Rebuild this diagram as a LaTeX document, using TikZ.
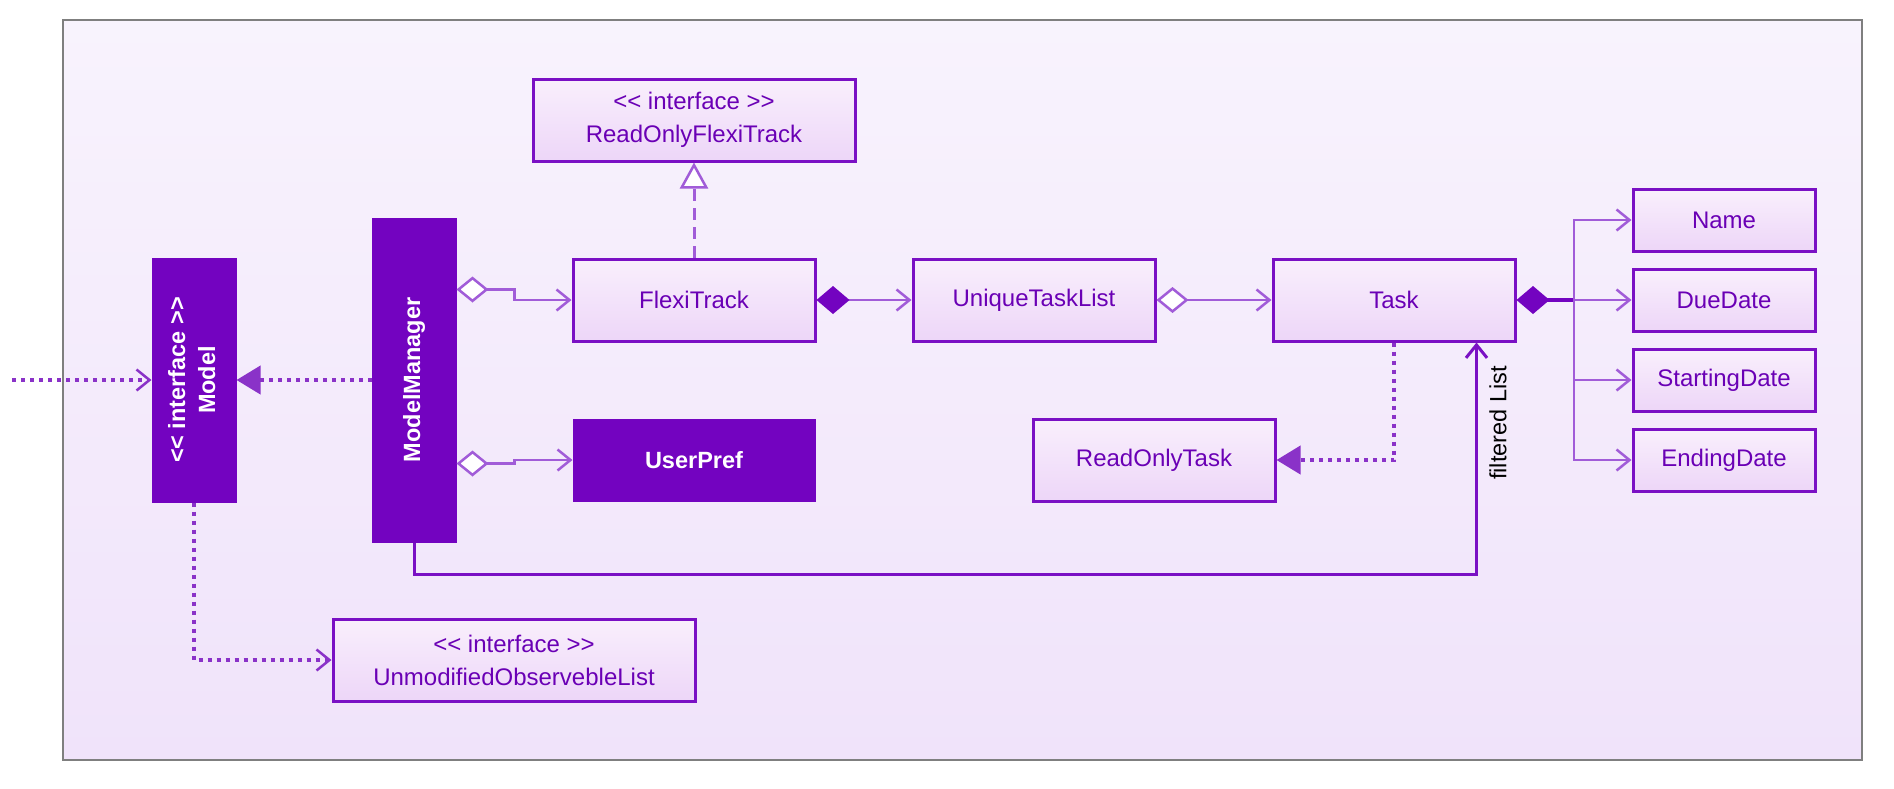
\documentclass[tikz,border=0pt]{standalone}
\usepackage{fontspec}
\setmainfont{Liberation Sans}
\usetikzlibrary{arrows.meta,calc}
\definecolor{dark}{HTML}{7303C0}
\definecolor{bord}{HTML}{7A10C4}
\definecolor{txt}{HTML}{6A00B5}
\definecolor{lite}{HTML}{A15CD8}
\definecolor{dotc}{HTML}{8A32C8}
\definecolor{boxtop}{HTML}{F9EFFC}
\definecolor{boxbot}{HTML}{EDD6F8}
\definecolor{bgtop}{HTML}{F8F3FD}
\definecolor{bgbot}{HTML}{F0E3FA}
\definecolor{framec}{HTML}{7F7F7F}
\begin{document}
\begin{tikzpicture}[x=1pt,y=-1pt,
  box/.style={draw=bord, line width=3pt, top color=boxtop, bottom color=boxbot, text=txt,
    font=\fontsize{24}{33}\selectfont, minimum width=242pt, minimum height=82pt, inner sep=0pt, align=center},
  smallbox/.style={box, minimum width=182pt, minimum height=62pt},
  dbox/.style={fill=dark, draw=dark, line width=1pt, text=white,
    font=\bfseries\fontsize{23.5}{30}\selectfont, inner sep=0pt, align=center},
  conn/.style={draw=lite, line width=2.5pt},
  oarr/.style={-{Straight Barb[length=13pt,width=21pt,line width=2.5pt]}},
  dots/.style={draw=dotc, line width=4pt, dash pattern=on 4pt off 5pt},
  aggr/.style={{Diamond[open,fill=white,length=32pt,width=26pt,line width=2.5pt]}-{Straight Barb[length=13pt,width=21pt,line width=2.5pt]}},
  comp/.style={{Diamond[color=dark,length=33pt,width=28pt]}-{Straight Barb[length=13pt,width=21pt,line width=2.5pt]}},
]
\useasboundingbox (0,0) rectangle (1894,788);
\draw[draw=framec, line width=2pt, top color=bgtop, bottom color=bgbot] (63,20) rectangle (1862,760);

% nodes
\node[dbox, minimum width=84pt, minimum height=244pt] (model) at (194,380)
  {\rotatebox{90}{\begin{tabular}{@{}c@{}}<{}< interface >{}>\\Model\end{tabular}}};
\node[dbox, minimum width=84pt, minimum height=324pt] (mm) at (414,380)
  {\rotatebox{90}{ModelManager}};
\node[box, minimum width=322pt] (roft) at (694,120) {<{}< interface >{}>\\ReadOnlyFlexiTrack};
\node[box] (ft) at (694,300) {FlexiTrack};
\node[box] (utl) at (1034,300) {UniqueTaskList};
\node[box] (task) at (1394,300) {Task};
\node[dbox, minimum width=242pt, minimum height=82pt] (up) at (694,460) {UserPref};
\node[box] (rot) at (1154,460) {ReadOnlyTask};
\node[box, minimum width=362pt] (uol) at (514,660) {<{}< interface >{}>\\UnmodifiedObservebleList};
\node[smallbox] (name) at (1724,220) {Name};
\node[smallbox] (due) at (1724,300) {DueDate};
\node[smallbox] (start) at (1724,380) {StartingDate};
\node[smallbox] (end) at (1724,460) {EndingDate};
\node[rotate=90, font=\fontsize{23.5}{28}\selectfont, text=black, inner sep=0pt] (fl) at (1498,423) {filtered List};

\coordinate (ext) at (12,380);
\coordinate (hub) at (1574,300);

% connectors
\draw[dots, oarr] (ext) -- (model.west);
\draw[dots, -{Triangle[length=24pt,width=28pt]}] (mm.west) -- (model.east);
\draw[dots, oarr] (model.south) |- (uol.west);
\draw[conn, aggr] ($(mm.north east)+(0,72)$) -- ++(58,0) |- (ft.west);
\draw[conn, aggr] ($(mm.south east)+(0,-79)$) -- ++(58,0) |- (up.west);
\draw[draw=lite, line width=3pt, dash pattern=on 12pt off 7pt,
  -{Triangle[open,fill=white,length=26pt,width=28pt,line width=2.5pt]}] (ft.north) -- (roft.south);
\draw[conn, comp] (ft.east) -- (utl.west);
\draw[conn, aggr] (utl.east) -- (task.west);
\draw[draw=dark, line width=4pt, {Diamond[color=dark,length=33pt,width=28pt]}-] (task.east) -- (hub);
\draw[conn, oarr] (hub) |- (name.west);
\draw[conn, oarr] (hub) -- (due.west);
\draw[conn, oarr] (hub) |- (start.west);
\draw[conn, oarr] (hub) |- (end.west);
\draw[dots, -{Triangle[length=24pt,width=28pt]}] (task.south) |- (rot.east);
\draw[draw=bord, line width=3pt, -{Straight Barb[length=13pt,width=21pt,line width=3pt]}]
  (mm.south) -- ++(0,32) -| ($(task.south east)+(-40,0)$);
\end{tikzpicture}
\end{document}
